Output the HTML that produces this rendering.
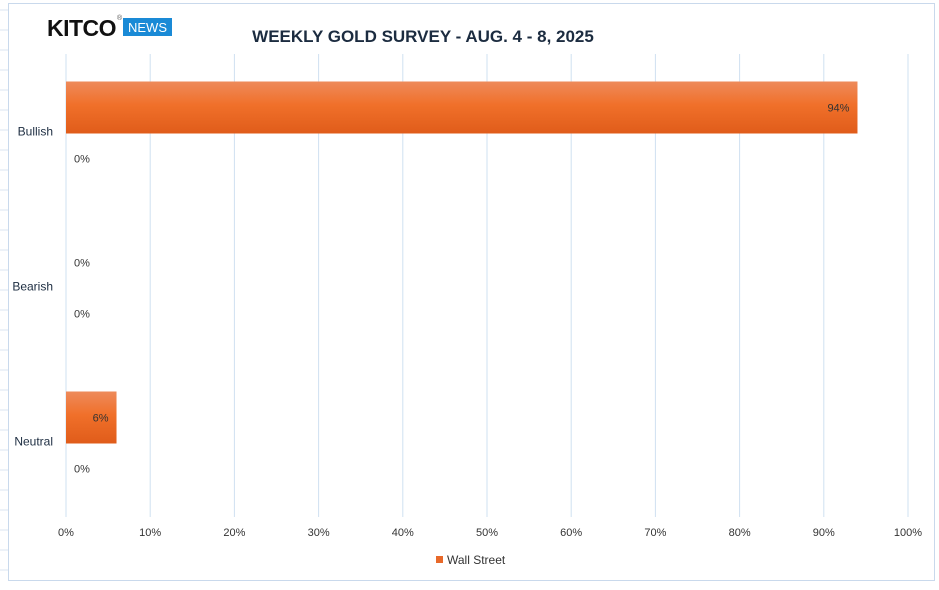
<!DOCTYPE html>
<html><head><meta charset="utf-8"><style>
body{margin:0;width:939px;height:585px;background:#fff;overflow:hidden;font-family:"Liberation Sans",sans-serif}
</style></head><body>
<svg width="939" height="585" xmlns="http://www.w3.org/2000/svg">
<defs><linearGradient id="g" x1="0" y1="0" x2="0" y2="1"><stop offset="0" stop-color="#ee8a5a"/><stop offset="0.45" stop-color="#f0702a"/><stop offset="1" stop-color="#e05c1a"/></linearGradient></defs>
<g id="bggrid" stroke="#dbe5f1" stroke-width="1"></g>
<rect x="8.5" y="3.5" width="926" height="577" fill="#fff" stroke="#c9d9ec"/>
<text x="47" y="36" font-size="23" font-weight="bold" fill="#111" letter-spacing="-0.5">KITCO</text>
<text x="117" y="20" font-size="7" fill="#555">®</text>
<rect x="123" y="18" width="49" height="18" fill="#1a8ad6"/>
<text x="147.5" y="32" font-size="13" fill="#fff" text-anchor="middle">NEWS</text>
<text x="423" y="42" font-size="17" font-weight="bold" fill="#1c2c40" text-anchor="middle">WEEKLY GOLD SURVEY - AUG. 4 - 8, 2025</text>
<g id="plot"></g>
<rect x="436" y="556" width="7" height="7" fill="#e8692a"/>
<text x="447" y="564" font-size="12" fill="#333">Wall Street</text>
</svg>
<script>
const categories=["Bullish","Bearish","Neutral"];
const wallStreet=[94,0,6];
const mainStreet=[0,0,0];
const ticks=[0,10,20,30,40,50,60,70,80,90,100];
const NS="http://www.w3.org/2000/svg";
const x=v=>66+v*8.42;
const bandTop=54,band=155;
const yc=i=>bandTop+band*i+band/2;
const g=document.getElementById('plot');
function mk(t,a,txt){const e=document.createElementNS(NS,t);for(const k in a)e.setAttribute(k,a[k]);if(txt!==undefined)e.textContent=txt;g.appendChild(e);return e;}
const bg=document.getElementById('bggrid');
for(let yy=10;yy<585;yy+=20){const l=document.createElementNS(NS,'line');l.setAttribute('x1',0);l.setAttribute('x2',8);l.setAttribute('y1',yy);l.setAttribute('y2',yy);bg.appendChild(l);}
ticks.forEach(t=>{
 const l=mk('line',{x1:x(t),x2:x(t),y1:54,y2:517,stroke:'#cfe0f1','stroke-width':1});
 
 
 const tx=mk('text',{x:x(t),y:536,'font-size':11,fill:'#333','text-anchor':'middle'},t+'%');
 
 
});
categories.forEach((c,i)=>{
 const cy=yc(i);
 const lb=mk('text',{x:53,y:cy+4,'font-size':12,fill:'#1c2c40','text-anchor':'end'},c);
 
 
 const v=wallStreet[i];
 const top=cy-50,h=52;
 if(v>0){
  const r=mk('rect',{x:x(0),y:top,width:x(v)-x(0),height:h,fill:'url(#g)'});
  
  
  const t=mk('text',{x:x(v)-8,y:top+h/2+4,'font-size':11,fill:'#333','text-anchor':'end'},v+'%');
  
  
 } else {
  const t=mk('text',{x:74,y:top+h/2+4,'font-size':11,fill:'#333'},v+'%');
  
  
 }
 const m=mk('text',{x:74,y:cy+31,'font-size':11,fill:'#333'},mainStreet[i]+'%');
 
 
});
</script>
</body></html>
